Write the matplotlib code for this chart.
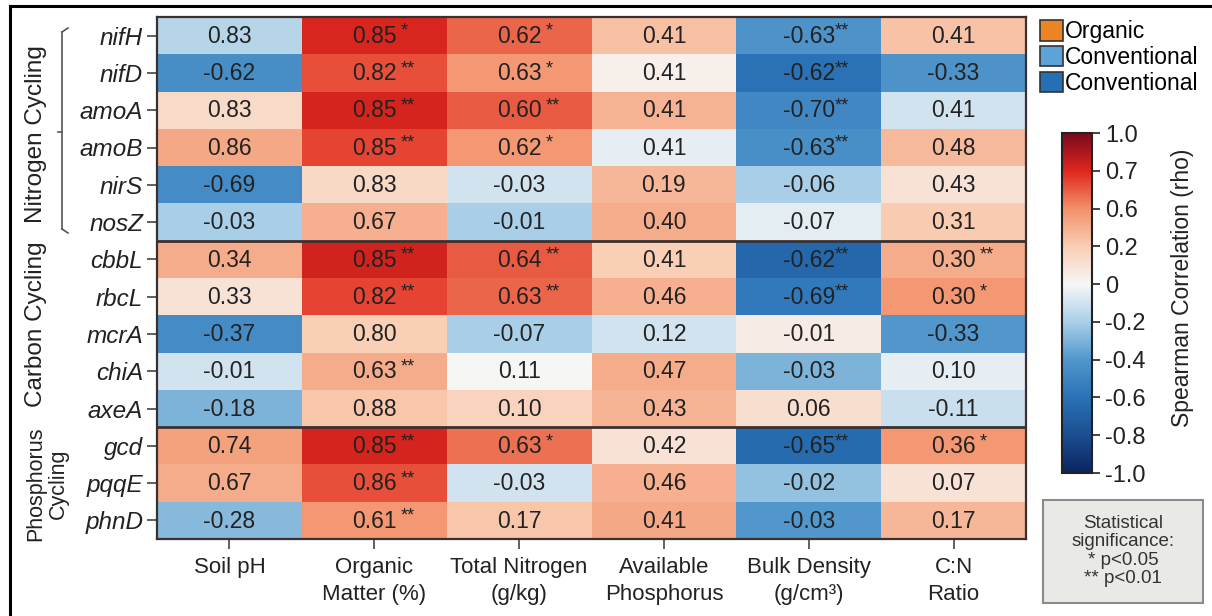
import numpy as np
import matplotlib
matplotlib.use("Agg")
import matplotlib.pyplot as plt
from matplotlib.colors import LinearSegmentedColormap, FuncNorm
from matplotlib.patches import Patch, Rectangle
from matplotlib.lines import Line2D

plt.rcParams['font.family'] = ['Liberation Sans', 'DejaVu Sans']

# ---------------- data ----------------
genes = ["nifH", "nifD", "amoA", "amoB", "nirS", "nosZ",
         "cbbL", "rbcL", "mcrA", "chiA", "axeA",
         "gcd", "pqqE", "phnD"]
groups = ["Nitrogen Cycling", "Carbon Cycling", "Phosphorus\nCycling"]
group_sizes = [6, 5, 3]
properties = ["Soil pH", "Organic\nMatter (%)", "Total Nitrogen\n(g/kg)",
              "Available\nPhosphorus", "Bulk Density\n(g/cm³)", "C:N\nRatio"]

rho = [
    ["0.83", "0.85", "0.62", "0.41", "-0.63", "0.41"],
    ["-0.62", "0.82", "0.63", "0.41", "-0.62", "-0.33"],
    ["0.83", "0.85", "0.60", "0.41", "-0.70", "0.41"],
    ["0.86", "0.85", "0.62", "0.41", "-0.63", "0.48"],
    ["-0.69", "0.83", "-0.03", "0.19", "-0.06", "0.43"],
    ["-0.03", "0.67", "-0.01", "0.40", "-0.07", "0.31"],
    ["0.34", "0.85", "0.64", "0.41", "-0.62", "0.30"],
    ["0.33", "0.82", "0.63", "0.46", "-0.69", "0.30"],
    ["-0.37", "0.80", "-0.07", "0.12", "-0.01", "-0.33"],
    ["-0.01", "0.63", "0.11", "0.47", "-0.03", "0.10"],
    ["-0.18", "0.88", "0.10", "0.43", "0.06", "-0.11"],
    ["0.74", "0.85", "0.63", "0.42", "-0.65", "0.36"],
    ["0.67", "0.86", "-0.03", "0.46", "-0.02", "0.07"],
    ["-0.28", "0.61", "0.17", "0.41", "-0.03", "0.17"],
]

stars = [
    ["", "*", "*", "", "**", ""],
    ["", "**", "*", "", "**", ""],
    ["", "**", "**", "", "**", ""],
    ["", "**", "*", "", "**", ""],
    ["", "", "", "", "", ""],
    ["", "", "", "", "", ""],
    ["", "**", "**", "", "**", "**"],
    ["", "**", "**", "", "**", "*"],
    ["", "", "", "", "", ""],
    ["", "**", "", "", "", ""],
    ["", "", "", "", "", ""],
    ["", "**", "*", "", "**", "*"],
    ["", "**", "", "", "", ""],
    ["", "**", "", "", "", ""],
]

# colour shading of each cell as drawn in the figure (colour-bar units)
shade = np.array([
    [-0.17, 0.72, 0.64, 0.30, -0.42, 0.28],
    [-0.45, 0.66, 0.55, 0.04, -0.60, -0.42],
    [0.14, 0.73, 0.65, 0.38, -0.48, -0.10],
    [0.45, 0.67, 0.55, -0.04, -0.44, 0.34],
    [-0.46, 0.15, -0.10, 0.35, -0.20, 0.10],
    [-0.20, 0.40, -0.20, 0.42, -0.05, 0.22],
    [0.42, 0.74, 0.65, 0.20, -0.66, 0.42],
    [0.10, 0.67, 0.64, 0.40, -0.56, 0.55],
    [-0.46, 0.20, -0.20, -0.10, 0.05, -0.40],
    [-0.10, 0.42, 0.00, 0.42, -0.30, -0.04],
    [-0.30, 0.25, 0.18, 0.38, 0.12, -0.12],
    [0.50, 0.73, 0.63, 0.10, -0.64, 0.55],
    [0.42, 0.66, -0.10, 0.40, -0.25, 0.10],
    [-0.28, 0.55, 0.25, 0.45, -0.40, 0.35],
])

cbar_levels = [-1.0, -0.8, -0.6, -0.4, -0.2, 0.0, 0.2, 0.6, 0.7, 1.0]
cbar_labels = ["-1.0", "-0.8", "-0.6", "-0.4", "-0.2", "0", "0.2", "0.6", "0.7", "1.0"]

legend_labels = ["Organic", "Conventional", "Conventional"]
legend_colors = ["#ec8424", "#5ba3d9", "#2470b4"]

# ---------------- figure ----------------
W, H = 1212, 616
fig = plt.figure(figsize=(W / 100, H / 100), dpi=100)

def fx(x):
    return x / W

def fy(y):
    return 1 - y / H

pos = np.linspace(0, 1, len(cbar_levels))
norm = FuncNorm((lambda v: np.interp(v, cbar_levels, pos),
                 lambda p: np.interp(p, pos, cbar_levels)), vmin=-1, vmax=1)
cmap = LinearSegmentedColormap.from_list("rho", list(zip(pos, [
    "#0b2461", "#1a4f91", "#2a72b6", "#5197cc", "#aacfe7",
    "#f6f6f6", "#f9cfb6", "#f2916a", "#e0271d", "#7a0a1e"])))

ax = fig.add_axes([fx(157), fy(539), fx(1026) - fx(157), fy(17) - fy(539)])
nr, nc = shade.shape
ax.pcolormesh(np.arange(nc + 1), np.arange(nr + 1), shade, cmap=cmap, norm=norm)
ax.set_xlim(0, nc)
ax.set_ylim(nr, 0)

for i in range(nr):
    for j in range(nc):
        ax.text(j + 0.5, i + 0.52, rho[i][j], ha="center", va="center",
                fontsize=16.5, color="#222222")
        if stars[i][j]:
            ax.annotate(stars[i][j], xy=(j + 0.5, i + 0.5), xytext=(19, 3),
                        textcoords="offset points", ha="left", va="center",
                        fontsize=13, color="#222222")

# group separators
b = 0
for s in group_sizes[:-1]:
    b += s
    ax.axhline(b, color="#3b3030", lw=2)

for sp in ax.spines.values():
    sp.set_color("#3b3030")
    sp.set_linewidth(1.6)

ax.set_yticks(np.arange(nr) + 0.5)
ax.set_yticklabels(genes, fontsize=17.5, style="italic", color="#222222")
ax.set_xticks(np.arange(nc) + 0.5)
ax.set_xticklabels(properties, fontsize=16, color="#222222", linespacing=1.35, va="top")
ax.tick_params(axis="y", length=7, width=1.2, color="#444444", pad=3)
ax.tick_params(axis="x", length=7, width=1.2, color="#444444", pad=6)

# group labels
fig.text(fx(36), fy(134), groups[0], rotation=90, ha="center", va="center",
         fontsize=17.5, color="#222222")
fig.text(fx(36), fy(324), groups[1], rotation=90, ha="center", va="center",
         fontsize=17.5, color="#222222")
fig.text(fx(47), fy(484), groups[2], rotation=90, ha="center", va="center",
         fontsize=15.5, color="#222222", linespacing=1.15, multialignment="center")

# bracket for nitrogen group
bx, by0, by1 = 62, 28, 233
for seg in [([bx + 6, bx], [by0, by0 + 4]), ([bx, bx], [by0 + 4, by1 - 4]),
            ([bx, bx + 6], [by1 - 4, by1]), ([bx, bx - 4], [132, 132])]:
    fig.add_artist(Line2D([fx(v) for v in seg[0]], [fy(v) for v in seg[1]],
                          color="#555555", lw=1.2))

# colour bar
cax = fig.add_axes([fx(1062), fy(473), fx(1092) - fx(1062), fy(133) - fy(473)])
cb = fig.colorbar(plt.cm.ScalarMappable(norm=norm, cmap=cmap), cax=cax)
cb.set_ticks(cbar_levels)
cb.set_ticklabels(cbar_labels)
cb.ax.tick_params(labelsize=17, length=6, width=1.2, colors="#222222")
cb.outline.set_linewidth(1.5)
cb.outline.set_edgecolor("#222222")
cb.ax.minorticks_off()
fig.text(fx(1182), fy(288), "Spearman Correlation (rho)", rotation=90,
         ha="center", va="center", fontsize=16.5, color="#222222")

# legend
handles = [Patch(facecolor=c, edgecolor="#333333", lw=1.2) for c in legend_colors]
fig.legend(handles, legend_labels, loc="upper left",
           bbox_to_anchor=(fx(1040), fy(20)), frameon=False, fontsize=16.5,
           handlelength=1.0, handleheight=1.0, handletextpad=0.1,
           labelspacing=0.12, borderaxespad=0, borderpad=0)

# significance box
fig.add_artist(Rectangle((fx(1043), fy(603)), fx(1203) - fx(1043), fy(500) - fy(603),
                         transform=fig.transFigure, facecolor="#e9e9e5",
                         edgecolor="#8a8a8a", lw=1.5))
fig.text(fx(1123), fy(551), "Statistical\nsignificance:\n* p<0.05\n** p<0.01",
         ha="center", va="center", fontsize=13.5, color="#333333", linespacing=1.1)

# outer frame (left and top)
fig.add_artist(Line2D([fx(9.5), fx(9.5)], [0, fy(6)], color="black", lw=2.2))
fig.add_artist(Line2D([fx(9.5), 1], [fy(6), fy(6)], color="black", lw=2.2))

fig.savefig("out.png", dpi=100)
